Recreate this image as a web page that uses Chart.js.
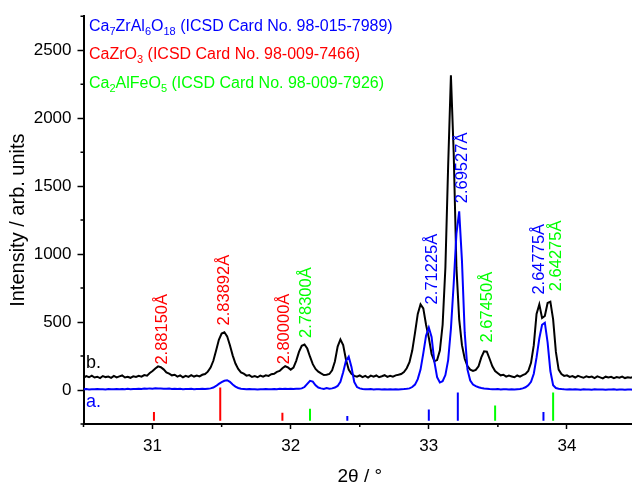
<!DOCTYPE html>
<html>
<head>
<meta charset="utf-8">
<script src="https://cdn.jsdelivr.net/npm/chart.js"></script>
<style>
  html, body { margin: 0; padding: 0; background: #fff; overflow: hidden; }
  #wrap { width: 636px; height: 489px; position: relative; }
</style>
</head>
<body>
<div id="wrap"><canvas id="xrd"></canvas></div>
<script>
// XRD patterns, 2theta from 30.50 to 34.50 in 0.02 steps
const START = 30.5;
const STEP = 0.02;

// a. sample (blue)
const patternA = [
  5, 7, 4, 6, 5, 8, 5, 6, 4, 7, 5, 6, 8, 5, 7, 6, 9, 6, 8, 7, 10, 8, 11, 9, 12,
  10, 13, 11, 12, 10, 9, 11, 8, 10, 7, 9, 6, 8, 7, 9, 6, 8, 7, 9, 8,
  10, 12, 18, 30, 45, 58, 68, 72, 60, 40, 25, 15, 10, 8, 6, 7, 5, 6, 4, 6,
  5, 7, 5, 6, 8, 6, 9, 7, 10, 8,
  9, 7, 10, 9, 12, 22, 45, 68, 62, 35, 18, 12, 8, 14, 10, 12, 18, 30, 60, 130,
  215, 245, 170, 60, 22, 12, 8, 6, 5, 7, 4, 6, 5, 3, 5, 4, 6, 3, 5, 4,
  6, 7, 9, 12, 22, 40, 80, 150, 270, 400,
  460, 390, 210, 95, 55, 65, 110, 220, 450, 780, 1150, 1315, 950, 420, 150, 70, 40, 28, 20, 15,
  11, 9, 7, 6, 5, 7, 4, 6, 5, 3, 5, 4, 6, 8, 12, 20, 35, 60, 120, 240,
  380, 480, 495, 350, 140, 35, 15, 10, 7, 5,
  4, 6, 3, 5, 4, 2, 5, 3, 4, 2, 5, 3, 4, 3, 2, 4, 3, 5, 2, 4, 3, 2, 4, 3, 2, 3
];

// b. sample (black)
const patternB = [
  90, 102, 94, 106, 92, 98, 88, 103, 95, 99, 89, 104, 93, 100, 107, 92, 98, 90, 101, 96, 104, 98, 110, 106, 125,
  140, 158, 174, 168, 152, 130, 120, 108, 112, 98, 108, 94, 104, 96, 109, 99, 106, 100, 112, 118,
  135, 165, 215, 290, 370, 415, 425, 395, 330, 255, 195, 155, 130, 120, 106, 110, 96, 102, 94, 106,
  98, 108, 104, 116, 120, 134, 140, 160, 175, 166,
  150, 165, 215, 280, 325, 335, 305, 245, 190, 155, 135, 122, 110, 112, 118, 145, 210, 320, 372, 330,
  225, 150, 120, 104, 98, 108, 95, 104, 92, 106, 98, 107, 94, 101, 109, 96, 104, 98, 108, 112,
  118, 132, 160, 205, 290, 420, 560, 630, 600, 480,
  385, 265, 212, 220, 290, 480, 900, 1650, 2315, 1750, 900, 520, 330, 230, 175, 150, 140, 148, 175, 240,
  285, 282, 230, 175, 140, 124, 108, 112, 98, 106, 100, 94, 107, 99, 110, 118, 140, 200, 330, 560,
  630, 530, 545, 640, 650, 520, 280, 150, 118, 104,
  108, 96, 102, 92, 104, 97, 90, 101, 94, 99, 88, 100, 93, 86, 98, 92, 97, 87, 95, 90, 99, 88, 94, 90, 96, 91
];

const twoTheta = patternB.map((_, i) => +(START + i * STEP).toFixed(2));

// reference card lines (drawn below the patterns, from STICK_BASE up)
const STICK_BASE = -226;
const stickRedPos = [31.01, 31.49, 31.94];
const stickRedTop = [-161, 18, -168];
const stickGreenPos = [32.14, 33.48, 33.90];
const stickGreenTop = [-137, -113, -19];
const stickBluePos = [32.41, 33.00, 33.21, 33.83];
const stickBlueTop = [-192, -144, -19, -161];

// d-spacing labels: text, 2theta of label, intensity where text starts, colour
const peakText = ['2.88150Å', '2.83892Å', '2.80000Å', '2.78300Å', '2.71225Å', '2.69527Å', '2.67450Å', '2.64775Å', '2.64275Å'];
const peakPos = [31.065, 31.512, 31.95, 32.104, 33.021, 33.239, 33.417, 33.793, 33.92];
const peakBase = [187, 475, 189, 383, 630, 1374, 350, 702, 727];
const peakColor = ['#ff0000', '#ff0000', '#ff0000', '#00ff00', '#0000ff', '#0000ff', '#00ff00', '#0000ff', '#00ff00'];

const phaseNames = [
  'Ca_7ZrAl_6O_18 (ICSD Card No. 98-015-7989)',
  'CaZrO_3 (ICSD Card No. 98-009-7466)',
  'Ca_2AlFeO_5 (ICSD Card No. 98-009-7926)'
];
const phaseColors = ['#0000ff', '#ff0000', '#00ff00'];

const FONT = "'Liberation Sans', Arial, sans-serif";
Chart.defaults.font.family = FONT;
Chart.defaults.color = '#000';

const toPoints = (xs, ys) => xs.map((x, i) => ({x: x, y: ys[i]}));

// each stick is two points followed by a gap
function sticks(pos, top) {
  const pts = [];
  pos.forEach((x, i) => {
    pts.push({x: x, y: STICK_BASE}, {x: x, y: top[i]}, {x: x, y: null});
  });
  return pts;
}

const stickStyle = {borderWidth: 2, pointRadius: 0, spanGaps: false, borderCapStyle: 'butt'};

// chemical formula with _n subscripts
function drawFormula(ctx, text, x, y, size) {
  const parts = text.split(/_(\d+)/);
  parts.forEach((p, i) => {
    const sub = i % 2 === 1;
    ctx.font = (sub ? Math.round(size * 0.68) : size) + 'px ' + FONT;
    ctx.fillText(p, x, sub ? y + 4 : y);
    x += ctx.measureText(p).width;
  });
}

const extras = {
  id: 'extras',
  afterDraw(chart) {
    const {ctx, scales: {x, y}} = chart;
    ctx.save();

    // minor ticks
    ctx.strokeStyle = '#000';
    ctx.lineWidth = 1.5;
    ctx.beginPath();
    for (let v = 30.5; v <= 34.5; v += 1) {
      const px = x.getPixelForValue(v);
      ctx.moveTo(px, y.bottom);
      ctx.lineTo(px, y.bottom + 3);
    }
    for (let v = -250; v <= 2750; v += 500) {
      const py = y.getPixelForValue(v);
      ctx.moveTo(x.left, py);
      ctx.lineTo(x.left - 3, py);
    }
    ctx.stroke();

    // d-spacing labels
    ctx.font = '16.5px ' + FONT;
    ctx.textAlign = 'left';
    ctx.textBaseline = 'middle';
    peakText.forEach((t, i) => {
      ctx.save();
      ctx.translate(x.getPixelForValue(peakPos[i]) + 1, y.getPixelForValue(peakBase[i]));
      ctx.rotate(-Math.PI / 2);
      ctx.fillStyle = peakColor[i];
      ctx.fillText(t, 0, 0);
      ctx.restore();
    });

    // phase list
    ctx.textBaseline = 'alphabetic';
    phaseNames.forEach((t, i) => {
      ctx.fillStyle = phaseColors[i];
      drawFormula(ctx, t, 89, 31 + i * 28.3, 16);
    });

    // pattern names
    ctx.font = '18px ' + FONT;
    ctx.fillStyle = '#000';
    ctx.fillText('b.', 86, 368);
    ctx.fillStyle = '#0000ff';
    ctx.fillText('a.', 86, 407);

    ctx.restore();
  }
};

new Chart(document.getElementById('xrd'), {
  type: 'line',
  data: {
    datasets: [
      {data: toPoints(twoTheta, patternA), borderColor: '#0000ff', borderWidth: 2, pointRadius: 0, tension: 0},
      {data: toPoints(twoTheta, patternB), borderColor: '#000000', borderWidth: 2, pointRadius: 0, tension: 0},
      {data: sticks(stickRedPos, stickRedTop), borderColor: '#ff0000', ...stickStyle},
      {data: sticks(stickGreenPos, stickGreenTop), borderColor: '#00ff00', ...stickStyle},
      {data: sticks(stickBluePos, stickBlueTop), borderColor: '#0000ff', ...stickStyle}
    ]
  },
  options: {
    responsive: true,
    maintainAspectRatio: false,
    animation: false,
    layout: {padding: {top: 7, right: 0, bottom: 0, left: 0}},
    plugins: {legend: {display: false}, tooltip: {enabled: false}},
    scales: {
      x: {
        type: 'linear',
        min: 30.5,
        max: 34.5,
        offset: false,
        afterFit: s => { s.height = 65; },
        border: {color: '#000', width: 2},
        grid: {drawOnChartArea: false, tickLength: 5, tickColor: '#000', tickWidth: 1.5},
        ticks: {
          stepSize: 0.5,
          autoSkip: false,
          maxRotation: 0,
          padding: 7,
          font: {size: 17},
          callback: v => Number.isInteger(v) ? v : null
        },
        title: {display: true, text: '2θ / °', font: {size: 19}, padding: {top: 0, bottom: 1}}
      },
      y: {
        min: -250,
        max: 2750,
        afterFit: s => { s.width = 83.5; },
        border: {color: '#000', width: 2},
        grid: {drawOnChartArea: false, tickLength: 6, tickColor: '#000', tickWidth: 1.5},
        ticks: {
          stepSize: 250,
          autoSkip: false,
          padding: 6,
          font: {size: 17},
          callback: v => (v >= 0 && v % 500 === 0) ? v : null
        },
        title: {display: true, text: 'Intensity / arb. units', font: {size: 20}, padding: {top: 6, bottom: 0}}
      }
    }
  },
  plugins: [extras]
});
</script>
</body>
</html>
